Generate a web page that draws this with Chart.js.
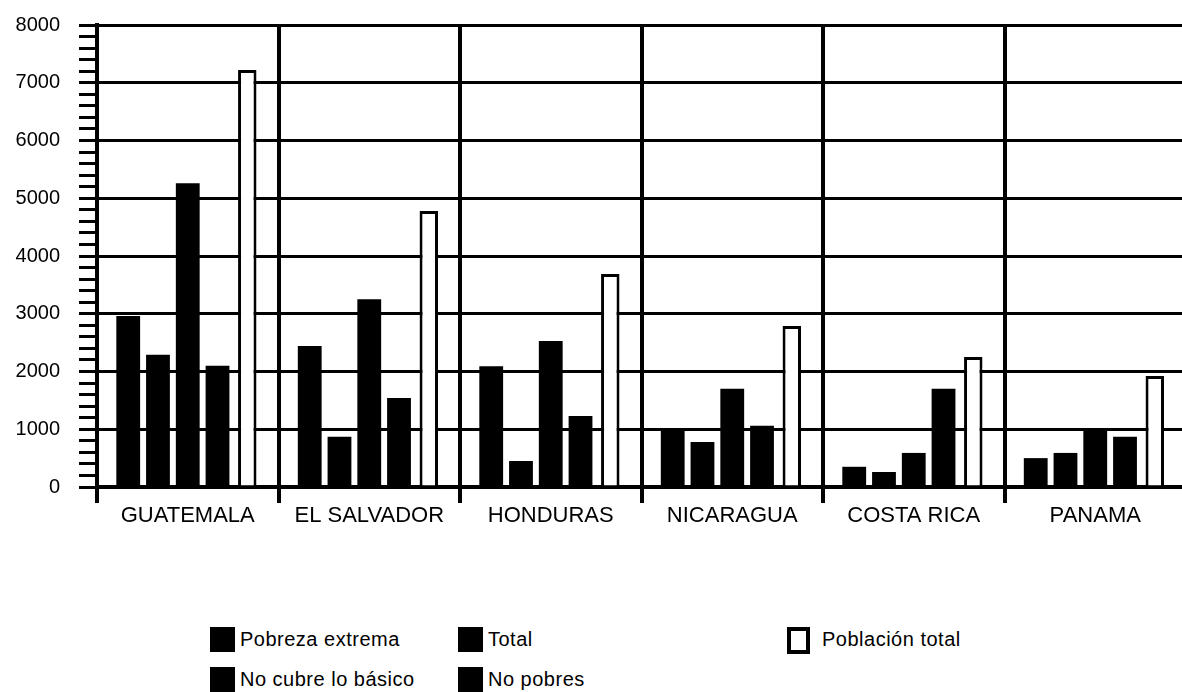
<!DOCTYPE html>
<html>
<head>
<meta charset="utf-8">
<script src="https://cdn.jsdelivr.net/npm/chart.js@4.4.1/dist/chart.umd.min.js"></script>
<style>
  body { margin: 0; background: #fff; overflow: hidden; font-family: "Liberation Sans", Arial, sans-serif; }
  #wrap { position: relative; width: 1182px; height: 692px; overflow: hidden; }
  #chart { position: absolute; left: 0; top: -6px; }
  .lg { position: absolute; font-size: 20px; color: #000; line-height: 25px; white-space: nowrap; letter-spacing: 0.5px; }
  .lg span.box { position: absolute; left: 0; top: 0; width: 25px; height: 25px; background: #000; }
  .lg span.box.hollow { width: 15px; height: 19px; top: 0; background: #fff; border: 4px solid #000; }
  .lg span.txt { position: absolute; left: 30px; top: 0; }
  .lg span.txt.wide { left: 35px; }
</style>
</head>
<body>
<div id="wrap">
  <canvas id="chart" width="1186" height="546"></canvas>
  <div id="legend"></div>
</div>
<script>
// categories and series (miles de personas)
const countries = ['GUATEMALA', 'EL SALVADOR', 'HONDURAS', 'NICARAGUA', 'COSTA RICA', 'PANAMA'];
const pobrezaExtrema = [2960, 2440, 2090, 1000, 350, 500];
const noCubreBasico = [2290, 870, 450, 780, 260, 590];
const total = [5260, 3250, 2530, 1700, 590, 1000];
const noPobres = [2100, 1540, 1230, 1060, 1700, 870];
const poblacionTotal = [7220, 4780, 3690, 2790, 2250, 1920];
const seriesNames = ['Pobreza extrema', 'No cubre lo básico', 'Total', 'No pobres', 'Población total'];
const yMax = 8000;

var ctx = document.getElementById('chart').getContext('2d');

function solid(label, data) {
    return {
        label: label,
        data: data,
        backgroundColor: '#000',
        borderWidth: 0,
        barPercentage: 0.8,
        categoryPercentage: 0.82
    };
}

var chart = new Chart(ctx, {
    type: 'bar',
    data: {
        labels: countries,
        datasets: [
            solid(seriesNames[0], pobrezaExtrema),
            solid(seriesNames[1], noCubreBasico),
            solid(seriesNames[2], total),
            solid(seriesNames[3], noPobres),
            {
                label: seriesNames[4],
                data: poblacionTotal,
                backgroundColor: '#fff',
                borderColor: '#000',
                borderWidth: 3,
                barPercentage: 0.62,
                categoryPercentage: 0.82
            }
        ]
    },
    options: {
        responsive: false,
        animation: false,
        layout: { padding: { top: 19, left: 0, right: 0, bottom: 0 } },
        plugins: {
            legend: { display: false },
            tooltip: { enabled: false }
        },
        scales: {
            x: {
                afterFit: function (s) { s.height = 53; },
                grid: {
                    offset: true,
                    color: '#000',
                    lineWidth: 4,
                    tickLength: 16
                },
                border: { color: '#000', width: 4 },
                ticks: {
                    color: '#000',
                    font: { family: 'Liberation Sans', size: 22 },
                    padding: 0,
                    maxRotation: 0
                }
            },
            y: {
                min: 0,
                max: yMax,
                afterFit: function (s) { s.width = 97; },
                grid: {
                    color: function (c) {
                        return c.tick && c.tick.value % 1000 === 0 ? '#000' : 'rgba(0,0,0,0)';
                    },
                    lineWidth: 3,
                    tickColor: '#000',
                    tickWidth: 3,
                    tickLength: 18
                },
                border: { color: '#000', width: 4 },
                ticks: {
                    stepSize: 200,
                    autoSkip: false,
                    color: '#000',
                    padding: 19,
                    font: { family: 'Liberation Sans', size: 20 },
                    callback: function (v) { return v % 1000 === 0 ? v : ''; }
                }
            }
        }
    }
});

// legend laid out in columns like the original
var legendPos = [
    { x: 210, y: 627 }, { x: 210, y: 667 },
    { x: 458, y: 627 }, { x: 458, y: 667 },
    { x: 787, y: 627 }
];
var legend = document.getElementById('legend');
seriesNames.forEach(function (name, i) {
    var d = document.createElement('div');
    d.className = 'lg';
    d.style.left = legendPos[i].x + 'px';
    d.style.top = legendPos[i].y + 'px';
    var hollow = i === 4 ? ' hollow' : '';
    var wide = i === 4 ? ' wide' : '';
    d.innerHTML = '<span class="box' + hollow + '"></span><span class="txt' + wide + '">' + name + '</span>';
    legend.appendChild(d);
});
</script>
</body>
</html>
